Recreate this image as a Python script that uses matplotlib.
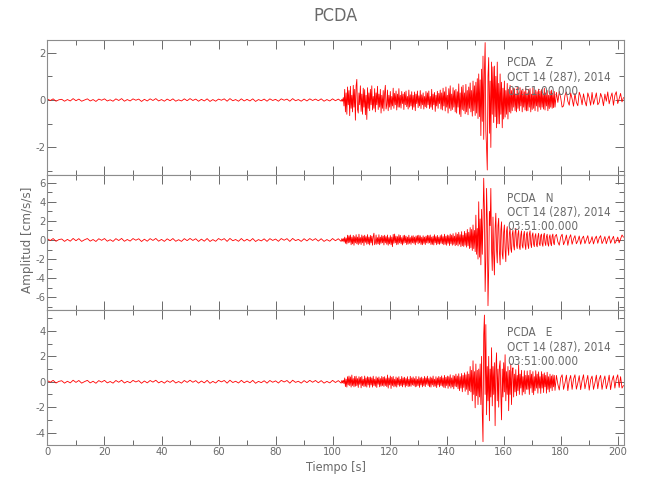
import numpy as np
import matplotlib
matplotlib.use('Agg')
import matplotlib.pyplot as plt
from matplotlib.ticker import MultipleLocator

# texts
station = 'PCDA'
channels = ['Z', 'N', 'E']
date_text = 'OCT 14 (287), 2014'
time_text = '03:51:00.000'
x_label = 'Tiempo [s]'
y_label = 'Amplitud [cm/s/s]'

# sampling of the peak values
pre_dt = 1.0          # quiet part, from t=0 to 103 s
evt_start = 103.25    # strong part, 103.25 to 178 s
evt_dt = 0.25
tail_start = 178.5    # coda, 178.5 to 202 s
tail_dt = 0.5

# ---- Z component [cm/s/s]
z_pre = [0.04,-0.02,0.05,-0.05,0.01,0.03,-0.05,0.02,-0.04,0.06,
         -0.03,0.04,-0.05,0.0,0.05,-0.04,0.02,-0.06,0.04,-0.01,
         0.05,-0.04,0.01,-0.05,0.05,-0.02,0.06,-0.05,0.02,-0.04,
         0.05,-0.01,0.04,-0.06,0.03,-0.04,0.05,-0.02,0.06,-0.04,
         0.02,-0.05,0.04,-0.03,0.05,-0.05,0.01,-0.04,0.05,-0.03,
         0.06,-0.02,0.04,-0.05,0.03,-0.04,0.05,-0.06,0.02,-0.05,
         0.04,-0.01,0.05,-0.05,0.06,-0.03,0.02,-0.05,0.05,-0.04,
         0.03,-0.04,0.05,-0.06,0.02,-0.03,0.04,-0.05,0.05,-0.02,
         0.03,-0.05,0.05,-0.01,0.04,-0.05,0.06,-0.03,0.02,-0.05,
         0.04,-0.04,0.05,-0.02,0.04,-0.03,0.05,-0.05,0.02,-0.04,
         0.05,-0.03,0.04,-0.05]
z_evt = [0.03,-0.05,0.1,-0.25,0.45,-0.5,0.3,-0.6,0.55,-0.2,0.4,-0.66,0.58,-0.35,0.2,-0.5,0.62,-0.3,0.45,-0.85,
         0.6,0.87,-0.4,-0.55,0.3,-0.2,0.6,-0.48,0.25,-0.6,0.5,-0.3,0.44,-0.62,0.2,-0.82,0.52,-0.35,0.3,-0.45,
         0.45,-0.2,0.6,-0.42,0.15,-0.35,0.48,-0.5,0.3,-0.2,0.58,-0.4,0.25,-0.3,0.45,-0.55,0.2,-0.35,0.4,-0.46,
         0.3,0.62,-0.38,-0.2,0.42,-0.45,0.2,-0.3,0.36,-0.4,0.15,-0.25,0.5,-0.35,0.28,-0.2,0.38,-0.42,0.25,-0.3,
         0.48,-0.3,0.2,-0.34,0.36,-0.15,0.25,-0.4,0.33,-0.2,0.38,-0.28,0.15,-0.38,0.42,-0.3,0.22,-0.25,0.35,-0.4,
         0.2,-0.3,0.34,-0.45,0.25,-0.15,0.38,-0.32,0.18,-0.25,0.4,-0.36,0.22,-0.2,0.3,-0.38,0.15,-0.28,0.36,-0.33,
         0.3,-0.2,0.38,-0.36,0.15,-0.3,0.45,-0.4,0.25,-0.2,0.32,-0.48,0.2,-0.25,0.37,-0.35,0.28,-0.15,0.42,-0.38,
         0.3,-0.42,0.5,-0.25,0.35,-0.46,0.55,-0.3,0.2,-0.55,0.48,-0.35,0.6,-0.45,0.25,-0.4,0.52,-0.3,0.4,-0.5,
         0.45,-0.55,0.35,-0.3,0.68,-0.6,0.3,-0.7,0.55,-0.4,0.62,-0.45,0.3,-0.58,0.66,-0.5,0.4,-0.62,0.55,-0.35,
         0.72,-0.5,0.4,-0.68,0.8,-0.45,0.6,-0.65,0.75,-0.55,0.9,-0.78,1.1,-0.7,0.85,-1.5,1.3,-0.9,1.85,-1.66,
         1.2,2.42,-1.3,-2.0,-2.95,1.0,1.79,-1.4,0.8,-2.0,1.6,-0.6,1.4,-0.95,1.43,-0.7,1.0,-1.17,1.6,-1.0,
         0.7,-1.0,1.1,-0.6,0.75,-1.17,0.5,-0.8,0.8,-0.72,0.4,-0.6,0.7,-0.8,0.45,-0.5,0.62,-0.55,0.4,-0.45,
         0.5,-0.3,0.48,-0.45,0.25,-0.5,0.55,-0.35,0.3,-0.45,0.52,-0.25,0.4,-0.5,0.46,-0.3,0.35,-0.42,0.5,-0.46,
         0.3,-0.45,0.45,-0.3,0.48,-0.5,0.25,-0.4,0.52,-0.35,0.3,-0.45,0.42,-0.25,0.35,-0.48,0.46,-0.3,0.38,-0.4,
         0.44,-0.3,0.25,-0.38,0.5,-0.42,0.3,-0.25,0.4,-0.45,0.2,-0.36,0.38,-0.3,0.42,-0.35,0.28,-0.32,0.36,-0.3]
z_tail = [0.32,-0.1,0.36,0.1,-0.3,-0.25,0.2,0.34,-0.05,-0.22,
          0.3,0.05,-0.26,0.28,-0.1,-0.24,0.33,0.15,-0.2,0.26,
          -0.05,-0.25,0.3,0.1,-0.22,0.32,-0.18,0.05,0.3,-0.2,
          -0.1,0.28,0.1,-0.24,0.25,-0.05,0.34,-0.16,0.1,0.3,
          -0.22,0.2,0.35,-0.15,0.05,0.28,-0.08,0.1]

# ---- N component [cm/s/s]
n_pre = [0.12,-0.06,0.15,-0.14,0.04,0.1,-0.15,0.06,-0.13,0.16,
         -0.08,0.14,-0.15,0.02,0.15,-0.12,0.05,-0.16,0.13,-0.04,
         0.15,-0.13,0.03,-0.15,0.14,-0.06,0.16,-0.14,0.05,-0.12,
         0.15,-0.03,0.13,-0.16,0.08,-0.13,0.14,-0.05,0.16,-0.13,
         0.06,-0.15,0.12,-0.08,0.15,-0.14,0.03,-0.15,0.14,-0.07,
         0.16,-0.05,0.13,-0.15,0.09,-0.13,0.15,-0.16,0.04,-0.14,
         0.15,-0.02,0.14,-0.15,0.16,-0.08,0.05,-0.14,0.15,-0.12,
         0.08,-0.12,0.15,-0.16,0.04,-0.1,0.12,-0.15,0.14,-0.05,
         0.1,-0.14,0.15,-0.03,0.14,-0.15,0.16,-0.07,0.06,-0.15,
         0.13,-0.1,0.15,-0.05,0.14,-0.12,0.13,-0.15,0.04,-0.13,
         0.15,-0.08,0.13,-0.15]
n_evt = [0.14,-0.12,0.15,-0.2,0.3,-0.35,0.2,-0.42,0.5,-0.3,0.45,-0.25,0.52,-0.5,0.3,-0.4,0.48,-0.55,0.35,-0.3,
         0.55,-0.4,0.3,-0.5,0.6,-0.35,0.25,-0.48,0.52,-0.3,0.4,-0.58,0.5,-0.25,0.35,-0.45,0.56,-0.4,0.3,-0.52,
         0.48,-0.3,0.4,-0.55,0.35,0.71,-0.5,-0.3,0.52,-0.46,0.25,-0.4,0.55,-0.5,0.3,-0.35,0.48,-0.3,0.4,-0.52,
         0.5,-0.3,0.35,-0.45,0.52,-0.55,0.25,-0.4,0.46,-0.5,0.3,-0.7,0.58,-0.35,0.62,-0.3,0.4,-0.5,0.35,-0.45,
         0.55,-0.3,0.48,-0.4,0.25,-0.52,0.45,-0.35,0.5,-0.28,0.4,-0.48,0.3,-0.44,0.5,-0.35,0.25,-0.46,0.42,-0.3,
         0.45,-0.35,0.3,-0.5,0.42,-0.25,0.46,-0.4,0.5,-0.3,0.44,-0.47,0.28,-0.5,0.44,-0.35,0.3,-0.48,0.4,-0.3,
         0.5,-0.35,0.45,-0.3,0.52,-0.48,0.3,-0.46,0.4,-0.52,0.55,-0.3,0.35,-0.5,0.48,-0.4,0.3,-0.46,0.45,-0.35,
         0.55,-0.4,0.35,-0.5,0.6,-0.45,0.4,-0.55,0.52,-0.35,0.45,-0.58,0.62,-0.4,0.5,-0.55,0.66,-0.45,0.4,-0.6,
         0.75,-0.5,0.6,-0.62,0.8,-0.45,0.55,-0.7,0.87,-0.6,0.5,-0.68,0.9,-0.55,0.7,-0.75,1.1,-0.6,0.8,-0.9,
         1.3,-0.8,1.1,-1.1,1.57,-0.9,1.0,-1.22,2.6,-1.5,1.2,-2.0,4.0,-1.8,2.2,-2.6,3.2,-1.5,2.0,6.46,
         3.0,-5.4,-2.0,5.4,2.0,-6.88,-3.0,3.0,1.5,5.4,-1.0,-3.2,2.4,-1.5,-3.66,1.2,2.8,-1.0,-2.4,1.5,
         2.27,-1.2,-2.6,1.0,1.9,-1.5,-2.0,0.8,1.57,-1.0,-2.27,0.9,1.4,-0.8,-1.6,0.7,1.22,-0.9,-1.3,0.6,
         1.0,-0.6,-1.05,0.8,1.22,-0.5,-0.9,0.6,1.0,-0.7,-1.0,0.5,0.95,-0.6,-0.85,0.5,0.9,-0.5,-1.0,0.6,
         0.85,-0.5,-0.9,0.6,0.95,-0.4,-0.8,0.5,0.75,-0.45,-0.7,0.4,0.66,-0.5,-0.72,0.35,0.7,-0.4,-0.6,0.45,
         0.62,-0.4,-0.66,0.45,0.7,-0.3,-0.58,0.35,0.6,-0.4,-0.65,0.3,0.55,-0.35,-0.6,0.4,0.62,-0.3,-0.5,0.35]
n_tail = [0.58,-0.2,-0.55,0.3,0.6,-0.5,-0.1,0.52,-0.56,0.2,
          0.55,-0.45,0.1,0.45,-0.4,-0.1,0.42,-0.45,0.15,0.4,
          -0.38,0.05,0.45,-0.4,-0.15,0.35,-0.42,0.1,0.4,-0.35,
          0.2,0.45,-0.38,-0.05,0.36,-0.4,0.1,0.42,-0.34,0.05,
          0.38,-0.36,-0.1,0.3,-0.3,0.1,0.52,0.3]

# ---- E component [cm/s/s]
e_pre = [0.09,-0.04,0.11,-0.1,0.03,0.08,-0.11,0.04,-0.09,0.12,
         -0.05,0.1,-0.11,0.01,0.11,-0.09,0.04,-0.12,0.09,-0.03,
         0.11,-0.09,0.02,-0.11,0.1,-0.04,0.12,-0.1,0.03,-0.08,
         0.11,-0.02,0.09,-0.12,0.06,-0.09,0.1,-0.03,0.12,-0.09,
         0.04,-0.11,0.08,-0.05,0.11,-0.1,0.02,-0.11,0.1,-0.05,
         0.12,-0.04,0.09,-0.11,0.06,-0.09,0.11,-0.12,0.03,-0.1,
         0.11,-0.01,0.1,-0.11,0.12,-0.06,0.04,-0.1,0.11,-0.08,
         0.06,-0.08,0.11,-0.12,0.03,-0.07,0.08,-0.11,0.1,-0.04,
         0.07,-0.1,0.11,-0.02,0.1,-0.11,0.12,-0.05,0.04,-0.11,
         0.09,-0.07,0.11,-0.04,0.1,-0.08,0.09,-0.11,0.03,-0.09,
         0.11,-0.06,0.09,-0.11]
e_evt = [0.1,-0.09,0.12,-0.15,0.3,-0.38,0.2,-0.42,0.4,-0.25,0.45,-0.3,0.38,-0.42,0.53,-0.3,0.25,-0.4,0.42,-0.35,
         0.44,-0.3,0.25,-0.45,0.4,-0.2,0.35,-0.48,0.42,-0.3,0.2,-0.38,0.45,-0.35,0.3,-0.42,0.4,-0.25,0.35,-0.44,
         0.38,-0.25,0.3,-0.42,0.44,-0.3,0.2,-0.36,0.4,-0.45,0.3,-0.2,0.38,-0.4,0.25,-0.35,0.42,-0.3,0.35,-0.37,
         0.4,-0.3,0.25,-0.38,0.53,-0.5,0.3,-0.25,0.45,-0.53,0.35,-0.3,0.42,-0.4,0.2,-0.35,0.38,-0.42,0.3,-0.25,
         0.4,-0.36,0.2,-0.3,0.42,-0.4,0.3,-0.25,0.36,-0.42,0.25,-0.3,0.4,-0.38,0.2,-0.35,0.43,-0.36,0.3,-0.25,
         0.38,-0.3,0.25,-0.4,0.42,-0.36,0.2,-0.3,0.4,-0.44,0.3,-0.25,0.37,-0.4,0.25,-0.3,0.42,-0.38,0.3,-0.2,
         0.44,-0.3,0.25,-0.4,0.38,-0.42,0.3,-0.25,0.45,-0.38,0.2,-0.35,0.4,-0.46,0.3,-0.25,0.42,-0.4,0.35,-0.3,
         0.46,-0.35,0.3,-0.44,0.5,-0.48,0.35,-0.3,0.45,-0.52,0.4,-0.35,0.55,-0.5,0.3,-0.4,0.5,-0.56,0.45,-0.35,
         0.6,-0.4,0.45,-0.55,0.63,-0.7,0.4,-0.5,0.65,-0.79,0.5,-0.45,0.7,-0.75,0.55,-0.6,0.79,-1.02,0.6,-0.7,
         1.2,-0.8,0.9,-1.5,1.65,-1.0,0.8,-2.05,1.4,-1.1,0.9,-1.8,1.0,-1.2,1.4,-1.8,2.0,-2.5,-4.72,3.7,
         5.25,-1.0,4.5,-2.6,1.2,-1.5,2.0,-3.07,1.0,-1.2,2.68,-1.9,1.2,-1.0,1.5,-3.46,1.0,2.28,-1.5,1.0,
         -2.0,1.2,1.65,-1.0,-3.0,1.0,-1.2,1.5,-0.8,2.13,-1.5,0.8,-1.0,1.2,-2.28,0.9,-1.0,1.4,-1.8,0.8,
         1.1,-1.2,0.6,-0.8,0.95,-1.1,0.5,-0.7,1.34,-1.0,0.6,-0.5,0.9,-1.05,0.4,-0.8,0.87,-0.95,0.5,-0.6,
         0.85,-0.6,0.5,-1.0,0.9,-0.5,0.6,-0.85,0.8,-1.02,0.4,-0.7,0.87,-0.5,0.6,-0.9,0.78,-0.5,0.4,-0.92,
         0.8,-0.5,0.6,-0.85,0.7,-0.4,0.5,-0.9,0.75,-0.6,0.4,-0.8,0.6,-0.5,0.45,-0.7,0.55,-0.4,0.5,-0.68]
e_tail = [0.5,-0.2,-0.65,0.3,0.55,-0.6,-0.1,0.52,-0.7,0.1,
          0.5,-0.6,0.2,0.55,-0.58,-0.1,0.48,-0.62,0.1,0.55,
          -0.55,0.0,0.5,-0.66,0.15,0.45,-0.6,-0.1,0.52,-0.55,
          0.2,0.5,-0.6,0.05,0.46,-0.55,-0.1,0.52,-0.62,0.1,
          0.48,-0.5,0.2,0.55,-0.45,0.4,-0.5,-0.3]

traces = [(z_pre, z_evt, z_tail), (n_pre, n_evt, n_tail), (e_pre, e_evt, e_tail)]
y_ranges = [(-3.16, 2.53), (-7.33, 6.8), (-4.98, 5.65)]

plt.rcParams['font.family'] = ['DejaVu Sans']
plt.rcParams['font.stretch'] = 'condensed'
plt.rcParams['font.weight'] = 'light'
plt.rcParams['axes.unicode_minus'] = False

text_gray = '#6a6a6a'
axis_gray = '#8c8c8c'

fig = plt.figure(figsize=(6.5, 5), dpi=100)

for i in range(len(channels)):
    pre, evt, tail = traces[i]
    t = np.concatenate([np.arange(len(pre)) * pre_dt,
                        evt_start + np.arange(len(evt)) * evt_dt,
                        tail_start + np.arange(len(tail)) * tail_dt])
    y = np.concatenate([pre, evt, tail])

    ax = fig.add_axes([0.073, 0.65 - 0.27 * i, 0.887, 0.27])
    ax.plot(t, y, color='red', lw=0.6)
    ax.set_xlim(0, 202.2)
    ax.set_ylim(*y_ranges[i])

    ax.xaxis.set_major_locator(MultipleLocator(20))
    ax.xaxis.set_minor_locator(MultipleLocator(10))
    ax.yaxis.set_major_locator(MultipleLocator(2))
    ax.yaxis.set_minor_locator(MultipleLocator(1))
    ax.tick_params(which='both', direction='in', top=True, right=True,
                   colors=text_gray, labelsize=8, width=0.7, pad=1.5)
    ax.tick_params(which='major', length=6.5)
    ax.tick_params(which='minor', length=3.6)
    for s in ax.spines.values():
        s.set_color(axis_gray)
        s.set_linewidth(0.8)
    if i < len(channels) - 1:
        ax.tick_params(labelbottom=False)

    info = [station + '   ' + channels[i], date_text, time_text]
    for k in range(len(info)):
        ax.text(0.797, 1 - (16.5 + 14.3 * k) / 135.0, info[k],
                transform=ax.transAxes, ha='left', va='top',
                fontsize=8.4, color=text_gray)

    if i == len(channels) - 1:
        ax.set_xlabel(x_label, fontsize=9, color=text_gray, labelpad=2.5)

fig.text(0.516, 0.968, station, ha='center', va='center',
         fontsize=13, color=text_gray)
fig.text(0.043, 0.52, y_label, ha='center', va='center', rotation=90,
         fontsize=9.5, color=text_gray)

fig.savefig('out.png', dpi=100)
